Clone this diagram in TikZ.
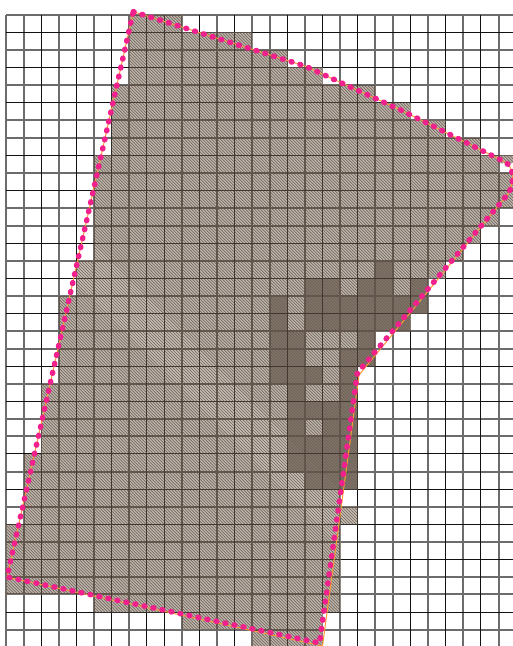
\documentclass[tikz,border=0pt]{standalone}
\definecolor{gridk}{HTML}{111111}
\definecolor{gridg}{HTML}{6C6C6C}
\definecolor{overk}{HTML}{43382F}
\definecolor{overg}{HTML}{62564C}
\definecolor{basel}{HTML}{D0C9C1}
\definecolor{hatchl}{HTML}{80746A}
\definecolor{based}{HTML}{85796D}
\definecolor{hatchd}{HTML}{70645A}
\definecolor{pinkdot}{HTML}{F0208C}
\definecolor{orangeln}{HTML}{FF9A30}
\newcommand{\xo}{6.3}
\newcommand{\yo}{15.0}
\newcommand{\sx}{17.58}
\newcommand{\sy}{17.56}
\newcommand{\lightcells}{0/7/10,1/7/14,2/7/16,3/7/18,4/6/21,5/6/23,6/6/25,7/6/27,8/5/28,9/5/30,10/5/30,11/5/28,12/5/27,13/5/26,14/4/25,15/4/24,16/3/24,17/3/23,18/3/21,19/3/21,20/3/20,21/2/20,22/2/20,23/2/20,24/2/20,25/1/20,26/1/20,27/1/19,28/1/20,29/0/19,30/0/19,31/0/19,32/0/19,33/5/19,34/10/18,35/14/18}
\newcommand{\darkcells}{14/21/22,15/17/19,15/20/22,15/23/24,16/15/16,16/17/24,17/15/16,17/17/23,18/15/17,18/20/21,19/15/17,19/19/21,20/15/18,20/19/20,21/16/17,21/19/20,22/16/20,23/16/17,23/18/20,24/16/20,25/16/20,26/17/20}
\newcommand{\cellpath}[1]{\foreach \r/\a/\b in #1 {({\xo+\a*\sx},{\yo+\r*\sy}) rectangle ({\xo+\b*\sx},{\yo+(\r+1)*\sy})}}
\newcommand{\hatchlines}{\foreach \i in {-660,-657,...,513} {\draw (\i,0) -- (\i+660,660);}}
\newcommand{\thingrid}{%
  \foreach \c in {2,4,6,8,9,11,13,16,18,20,23,25,27} {\draw ({floor(\xo+\c*\sx)+.5},\yo) -- ({floor(\xo+\c*\sx)+.5},646);}
  \foreach \r in {1,3,5,8,10,13,15,17,20,22,25,27,29,31,34} {\draw (\xo,{floor(\yo+\r*\sy)+.5}) -- (513,{floor(\yo+\r*\sy)+.5});}}
\newcommand{\widegrid}{%
  \foreach \c in {0,1,3,5,7,10,12,14,15,17,19,21,22,24,26,28} {\draw ({round(\xo+\c*\sx)},\yo) -- ({round(\xo+\c*\sx)},646);}
  \foreach \r in {0,2,4,6,7,9,11,12,14,16,18,19,21,23,24,26,28,30,32,33,35} {\draw (\xo,{round(\yo+\r*\sy)}) -- (513,{round(\yo+\r*\sy)});}}
\tikzset{
  gridthin/.style={line width=1bp,draw=gridk},
  gridwide/.style={line width=1.5bp,draw=gridg},
  overthin/.style={line width=1bp,draw=overk},
  overwide/.style={line width=1.5bp,draw=overg},
  lighthatch/.style={line width=1.06bp,draw=hatchl},
  darkhatch/.style={line width=1.06bp,draw=hatchd},
  outlinesolid/.style={line width=1bp,draw=orangeln,line join=round},
  outlinedots/.style={line width=5.6bp,draw=pinkdot,line cap=round,dash pattern=on 0.8bp off 8.4bp}
}
\begin{document}
\begin{tikzpicture}[x=1bp,y=-1bp]
\useasboundingbox (0,0) rectangle (513,646);
\fill[white] (0,0) rectangle (513,646);
\begin{scope}
\clip (0,0) rectangle (513,646);
\begin{scope}[gridwide]\widegrid\end{scope}
\begin{scope}[gridthin]\thingrid\end{scope}
\path[fill=basel] \cellpath{\lightcells};
\fill[basel] ({\xo+28*\sx},{\yo+8*\sy}) rectangle (513,163.5);
\begin{scope}
\clip \cellpath{\lightcells} ({\xo+28*\sx},{\yo+8*\sy}) rectangle (513,163.5);
\begin{scope}[lighthatch]\hatchlines\end{scope}
\end{scope}
\path[fill=based] \cellpath{\darkcells};
\begin{scope}
\clip \cellpath{\darkcells};
\begin{scope}[darkhatch]\hatchlines\end{scope}
\end{scope}
\begin{scope}
\clip \cellpath{\lightcells} ({\xo+28*\sx},{\yo+8*\sy}) rectangle (513,163.5);
\begin{scope}[overwide]\widegrid\end{scope}
\begin{scope}[overthin]\thingrid\end{scope}
\end{scope}
\draw[outlinesolid] (133.3,11.7) -- (304.7,66) -- (402.7,111) -- (505,162) .. controls (514,167) and (515,182) .. (508,194) -- (359,375) -- (322.5,646) -- (7,577) -- cycle;
\draw[outlinedots] (133.3,11.7) -- (304.7,66) -- (402.7,111) -- (505,162) .. controls (514,167) and (515,182) .. (508,194) -- (358.5,371.5) .. controls (357.7,372.5) and (357.4,373) .. (357.3,373.5) -- (319.5,643) -- (7,577) -- cycle;
\end{scope}
\end{tikzpicture}
\end{document}
